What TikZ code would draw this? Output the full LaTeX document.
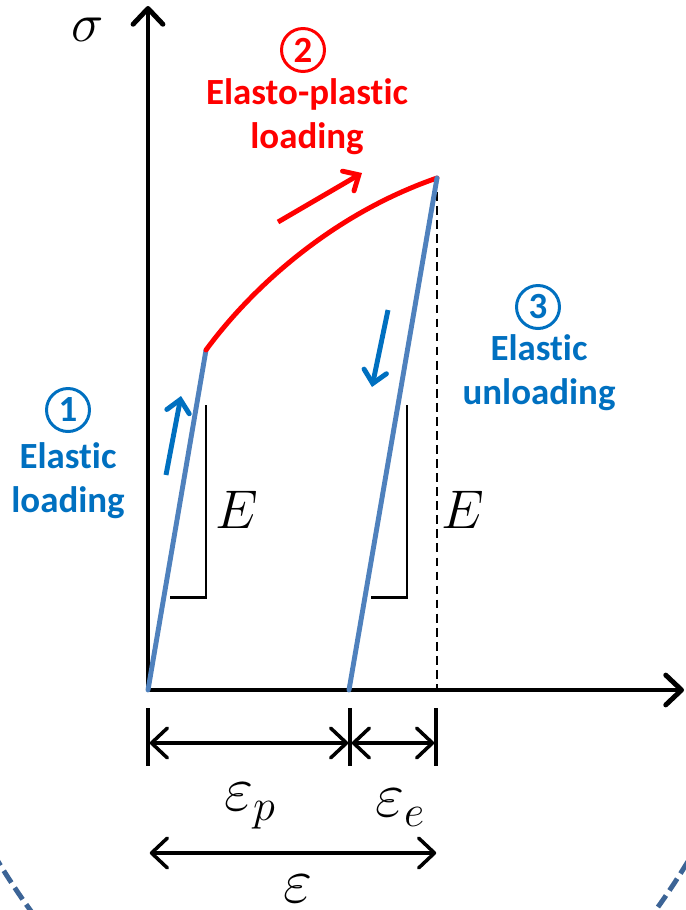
\documentclass[tikz,border=0pt]{standalone}
\usepackage{fix-cm}
\usepackage{fontspec}
\setmainfont{Carlito}[Ligatures=NoCommon]
\usetikzlibrary{arrows.meta,positioning}

\definecolor{lineblue}{HTML}{4F81BD}
\definecolor{textblue}{HTML}{0070C0}
\definecolor{framblue}{HTML}{3C6496}

\begin{document}
\begin{tikzpicture}[x=0.02cm, y=-0.02cm,
    barb/.tip={Straight Barb[length=9pt, width=17pt, line cap=round, line join=round]},
    axis/.style={line width=2.8pt, -barb},
    branch/.style={line width=2.8pt, line cap=round},
    hint/.style={line width=2.8pt, -{Straight Barb[length=7pt, width=13pt, line cap=round]}},
    slope/.style={line width=1.7pt},
    dimline/.style={line width=2pt, barb-barb, shorten <=1pt, shorten >=1pt},
    tick/.style={line width=2.8pt},
    num/.style={circle, draw, line width=1.7pt, minimum size=0.86cm, inner sep=0pt, font=\fontsize{21}{25}\selectfont\bfseries},
    caption/.style={font=\fontsize{21}{25}\selectfont\bfseries, align=center},
    sym/.style={font=\fontsize{31}{36}\selectfont},
    bigsym/.style={font=\fontsize{36}{40}\selectfont}]
  \useasboundingbox (0,0) rectangle (686,910);

  % frame of the slide, only its lower corners show
  \begin{scope}
    \clip (0,0) rectangle (686,910);
    \draw[framblue, line width=2.8pt, dash pattern=on 8pt off 3.5pt] (343,300) ellipse [x radius=486, y radius=797];
  \end{scope}

  % axes
  \coordinate (O) at (148,690);
  \draw[axis] (O) -- (148,6) coordinate (Y);
  \draw[axis] (O) -- (684,690) coordinate (X);
  \node[sym] (sigma) at (88,30) {$\sigma$};

  % path of the loading
  \coordinate (A) at (206,350);
  \coordinate (B) at (437,178);
  \coordinate (C) at (349,690);
  \draw[dashed, line width=1.2pt, dash pattern=on 5pt off 3pt] (B) -- (B |- O);
  \draw[branch, lineblue] (O) -- (A);
  \draw[branch, red] (A) .. controls (250,290) and (330,215) .. (B);
  \draw[branch, lineblue] (B) -- (C);

  % slopes
  \draw[slope] (206,405) -- (206,597) -- (170,597);
  \draw[slope] (407,405) -- (407,597) -- (371,597);
  \node[sym] (E1) at (237,510) {$E$};
  \node[sym] (E2) at (463,510) {$E$};

  % direction arrows
  \draw[hint, textblue] (166,475) -- (181,396);
  \draw[hint, textblue] (388,310) -- (372,387);
  \draw[hint, red] (278,222) -- (362,173);

  % captions
  \node[num, red] (n2) at (303,50) {2};
  \node[caption, red] (plast) at (307,117) {Elasto-plastic\\loading};
  \node[num, textblue] (n1) at (68,410) {1};
  \node[caption, textblue] (load) at (68,481) {Elastic\\loading};
  \node[num, textblue] (n3) at (538,307) {3};
  \node[caption, textblue] (unload) at (539,373) {Elastic\\unloading};

  % strain parts
  \draw[tick] (148,708) -- (148,766);
  \draw[tick] (350,708) -- (350,766);
  \draw[tick] (436,708) -- (436,766);
  \draw[dimline] (148,743) -- (350,743);
  \draw[dimline] (350,743) -- (436,743);
  \node[bigsym] (ep) at (250,806) {$\varepsilon_p$};
  \node[bigsym] (ee) at (400,808) {$\varepsilon_e$};
  \draw[dimline] (148,853) -- (438,853);
  \node[bigsym, inner sep=0pt] (eps) at (298,889) {$\varepsilon$};
\end{tikzpicture}
\end{document}
